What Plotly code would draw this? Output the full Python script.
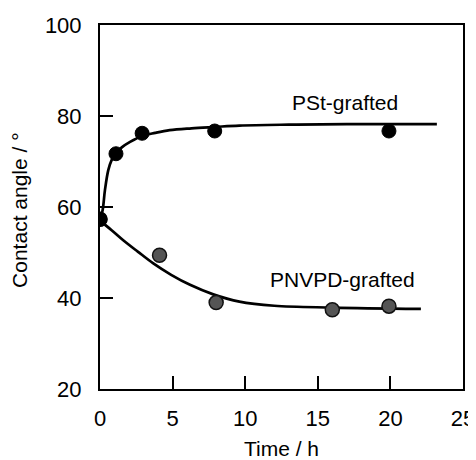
import plotly.graph_objects as go

# Measured data points
pst_t = [0, 1.1, 2.9, 7.9, 19.9]
pst_angle = [57.3, 71.7, 76.2, 76.7, 76.7]

pnvpd_t = [0, 4.1, 8.0, 16.0, 19.9]
pnvpd_angle = [57.3, 49.4, 39.0, 37.4, 38.2]

# Fitted curves
pst_curve_t = [0, 0.18, 0.34, 0.57, 0.8, 1.1, 1.5, 2.07, 2.9, 3.8, 4.8, 6.3, 7.9, 9.6, 13, 17, 23.2]
pst_curve_angle = [57.3, 59.3, 63.7, 68.1, 70.3, 71.8, 73.1, 74.3, 75.6, 76.3, 76.9, 77.3, 77.6, 77.9, 78.1, 78.2, 78.2]

pnvpd_curve_t = [0, 0.8, 1.6, 2.6, 3.67, 4.9, 6.2, 7.8, 9.6, 12, 16, 22.1]
pnvpd_curve_angle = [57.0, 54.9, 52.7, 50.2, 47.6, 45.1, 42.9, 40.8, 39.2, 38.3, 37.9, 37.6]

x_ticks = [0, 5, 10, 15, 20, 25]
y_ticks = [20, 40, 60, 80, 100]

FONT = "Liberation Sans, Arial, Helvetica, sans-serif"

fig = go.Figure()
fig.add_trace(go.Scatter(x=pst_curve_t, y=pst_curve_angle, mode="lines",
                         line=dict(color="black", width=2.7, shape="spline"),
                         showlegend=False, hoverinfo="skip"))
fig.add_trace(go.Scatter(x=pnvpd_curve_t, y=pnvpd_curve_angle, mode="lines",
                         line=dict(color="black", width=2.7, shape="spline"),
                         showlegend=False, hoverinfo="skip"))
fig.add_trace(go.Scatter(x=pnvpd_t, y=pnvpd_angle, mode="markers",
                         marker=dict(color="#555555", size=14, line=dict(color="#111", width=1.5)),
                         name="PNVPD-grafted", showlegend=False))
fig.add_trace(go.Scatter(x=pst_t, y=pst_angle, mode="markers",
                         marker=dict(color="black", size=14, line=dict(color="black", width=1)),
                         name="PSt-grafted", showlegend=False))

fig.add_annotation(x=16.9, y=82.9, text="PSt-grafted", showarrow=False,
                   font=dict(size=21, color="black", family=FONT))
fig.add_annotation(x=16.7, y=44.0, text="PNVPD-grafted", showarrow=False,
                   font=dict(size=21, color="black", family=FONT))

# y-axis title placed as a rotated annotation (sits slightly below centre)
fig.add_annotation(xref="paper", yref="paper", x=-0.2204, y=0.492, text="Contact angle / °",
                   textangle=-90, showarrow=False, xanchor="center", yanchor="middle",
                   font=dict(size=21, color="black", family=FONT))

axis_common = dict(showgrid=False, zeroline=False, showline=True, linecolor="black",
                   linewidth=2, mirror=True, ticks="inside", ticklen=13, tickwidth=2,
                   tickcolor="black", automargin=False,
                   tickfont=dict(size=22, color="black", family=FONT))

fig.update_xaxes(range=[0, 25], tickvals=x_ticks, ticktext=[str(v) for v in x_ticks],
                 title=dict(text="Time / h", font=dict(size=21, color="black", family=FONT), standoff=23),
                 ticklabelstandoff=9, **axis_common)
fig.update_yaxes(range=[20, 100], tickvals=y_ticks, ticktext=[str(v) for v in y_ticks],
                 ticklabelstandoff=12, **axis_common)

# page body adds an 8px offset, so the figure is sized 468x452
fig.update_layout(width=468, height=452, margin=dict(l=92, r=13, t=17, b=71),
                  paper_bgcolor="white", plot_bgcolor="white",
                  font=dict(family=FONT, color="black"))

fig.write_html("out.html")
